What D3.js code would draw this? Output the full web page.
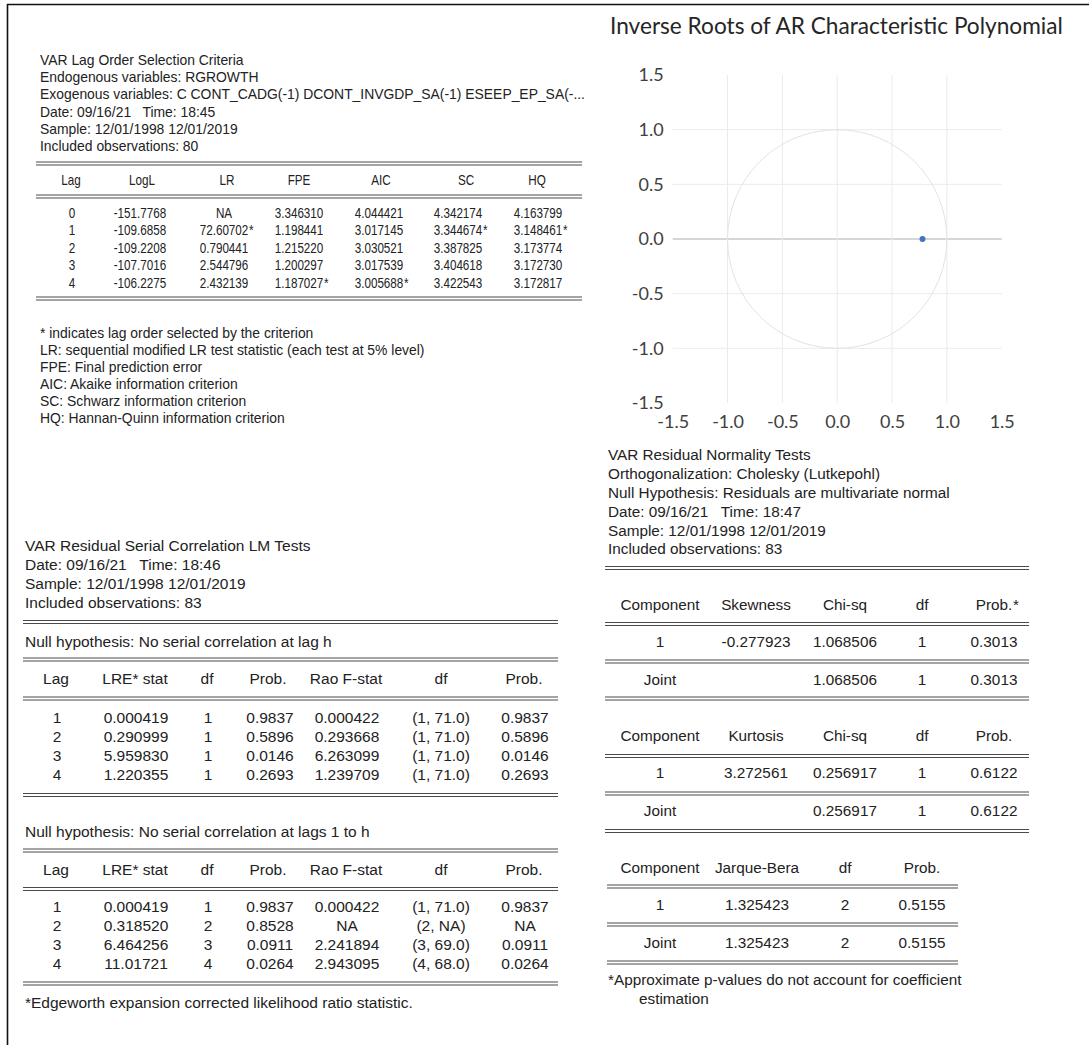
<!DOCTYPE html>
<html>
<head>
<meta charset="utf-8">
<script src="https://cdn.jsdelivr.net/npm/d3@7"></script>
<style>
  body { margin: 0; background: #fff; }
  svg text { fill: #222; white-space: pre; }
</style>
</head>
<body>
<svg id="page" width="1089" height="1045"></svg>
<script>
// --- Lag order selection criteria ---
const lagHeaderLines = [
  "VAR Lag Order Selection Criteria",
  "Endogenous variables: RGROWTH",
  "Exogenous variables: C CONT_CADG(-1) DCONT_INVGDP_SA(-1) ESEEP_EP_SA(-...",
  "Date: 09/16/21   Time: 18:45",
  "Sample: 12/01/1998 12/01/2019",
  "Included observations: 80"
];
const lagColumns = ["Lag", "LogL", "LR", "FPE", "AIC", "SC", "HQ"];
const lagOrder = ["0", "1", "2", "3", "4"];
const logL = ["-151.7768", "-109.6858", "-109.2208", "-107.7016", "-106.2275"];
const lrStat = ["NA", "72.60702*", "0.790441", "2.544796", "2.432139"];
const fpe = ["3.346310", "1.198441", "1.215220", "1.200297", "1.187027*"];
const aic = ["4.044421", "3.017145", "3.030521", "3.017539", "3.005688*"];
const sc = ["4.342174", "3.344674*", "3.387825", "3.404618", "3.422543"];
const hq = ["4.163799", "3.148461*", "3.173774", "3.172730", "3.172817"];
const lagNotes = [
  "* indicates lag order selected by the criterion",
  "LR: sequential modified LR test statistic (each test at 5% level)",
  "FPE: Final prediction error",
  "AIC: Akaike information criterion",
  "SC: Schwarz information criterion",
  "HQ: Hannan-Quinn information criterion"
];

// --- Serial correlation LM tests ---
const lmHeaderLines = [
  "VAR Residual Serial Correlation LM Tests",
  "Date: 09/16/21   Time: 18:46",
  "Sample: 12/01/1998 12/01/2019",
  "Included observations: 83"
];
const lmColumns = ["Lag", "LRE* stat", "df", "Prob.", "Rao F-stat", "df", "Prob."];
const lmLags = ["1", "2", "3", "4"];
const lreStatH = ["0.000419", "0.290999", "5.959830", "1.220355"];
const lreDfH = ["1", "1", "1", "1"];
const lreProbH = ["0.9837", "0.5896", "0.0146", "0.2693"];
const raoStatH = ["0.000422", "0.293668", "6.263099", "1.239709"];
const raoDfH = ["(1, 71.0)", "(1, 71.0)", "(1, 71.0)", "(1, 71.0)"];
const raoProbH = ["0.9837", "0.5896", "0.0146", "0.2693"];
const lreStatC = ["0.000419", "0.318520", "6.464256", "11.01721"];
const lreDfC = ["1", "2", "3", "4"];
const lreProbC = ["0.9837", "0.8528", "0.0911", "0.0264"];
const raoStatC = ["0.000422", "NA", "2.241894", "2.943095"];
const raoDfC = ["(1, 71.0)", "(2, NA)", "(3, 69.0)", "(4, 68.0)"];
const raoProbC = ["0.9837", "NA", "0.0911", "0.0264"];

// --- Normality tests ---
const normHeaderLines = [
  "VAR Residual Normality Tests",
  "Orthogonalization: Cholesky (Lutkepohl)",
  "Null Hypothesis: Residuals are multivariate normal",
  "Date: 09/16/21   Time: 18:47",
  "Sample: 12/01/1998 12/01/2019",
  "Included observations: 83"
];
const skewColumns = ["Component", "Skewness", "Chi-sq", "df", "Prob.*"];
const skewRows = [["1", "-0.277923", "1.068506", "1", "0.3013"], ["Joint", "", "1.068506", "1", "0.3013"]];
const kurtColumns = ["Component", "Kurtosis", "Chi-sq", "df", "Prob."];
const kurtRows = [["1", "3.272561", "0.256917", "1", "0.6122"], ["Joint", "", "0.256917", "1", "0.6122"]];
const jbColumns = ["Component", "Jarque-Bera", "df", "Prob."];
const jbRows = [["1", "1.325423", "2", "0.5155"], ["Joint", "1.325423", "2", "0.5155"]];

// --- AR roots ---
const rootRe = [0.778];
const rootIm = [0];
const axisTicks = [-1.5, -1.0, -0.5, 0.0, 0.5, 1.0, 1.5];

const svg = d3.select("#page");
const tableFont = "'Liberation Sans', Arial, sans-serif";

// page border (top and left edge of the screenshot)
svg.append("line").attr("x1", 7).attr("x2", 1089).attr("y1", 4.5).attr("y2", 4.5)
  .attr("stroke", "#111").attr("stroke-width", 1.6);
svg.append("line").attr("x1", 7.5).attr("x2", 7.5).attr("y1", 4).attr("y2", 1045)
  .attr("stroke", "#111").attr("stroke-width", 1.6);

function textLines(lines, x, y0, step, size) {
  svg.append("g").selectAll("text").data(lines).join("text")
    .attr("x", x).attr("y", (d, i) => y0 + i * step).attr("dy", "0.35em")
    .style("font-family", tableFont).style("font-size", size + "px")
    .text(d => d);
}

function doubleRule(x1, x2, y) {
  [y, y + 3].forEach(yy => {
    svg.append("line").attr("x1", x1).attr("x2", x2).attr("y1", yy).attr("y2", yy)
      .attr("stroke", "#4a4a4a").attr("stroke-width", 1.2);
  });
}

// centred cell; a trailing "*" hangs after the number. squeeze < 1 narrows the glyphs
function cell(g, value, x, y, size, squeeze) {
  const star = value.endsWith("*") && value.length > 1;
  const base = star ? value.slice(0, -1) : value;
  const t = g.append("g").attr("transform", `translate(${x},${y}) scale(${squeeze},1)`)
    .append("text").attr("dy", "0.35em").attr("text-anchor", "middle")
    .style("font-family", tableFont).style("font-size", size + "px")
    .text(base);
  const w = t.node().getComputedTextLength() * squeeze;
  if (star) {
    g.append("g").attr("transform", `translate(${x + w / 2 + 0.6},${y}) scale(${squeeze},1)`)
      .append("text").attr("dy", "0.35em")
      .style("font-family", tableFont).style("font-size", size + "px").text("*");
  }
}

function table(headers, headX, dataX, rows, headY, rowY, rowStep, size, squeeze = 1) {
  const g = svg.append("g");
  headers.forEach((h, j) => cell(g, h, headX[j], headY, size, squeeze));
  rows.forEach((r, i) => r.forEach((v, j) => { if (v !== "") cell(g, v, dataX[j], rowY + i * rowStep, size, squeeze); }));
}

// ---------- block 1: lag order selection ----------
const f1 = 13.9;
textLines(lagHeaderLines, 40, 60, 17.3, f1);
doubleRule(36, 582, 162);
doubleRule(36, 582, 195);
doubleRule(36, 582, 297);
const lagRows = d3.range(lagOrder.length).map(i => [lagOrder[i], logL[i], lrStat[i], fpe[i], aic[i], sc[i], hq[i]]);
table(lagColumns, [71, 142, 227, 299, 381, 466, 537], [72, 140, 224, 299, 379, 458, 538],
  lagRows, 180, 213, 17.5, f1, 0.84);
textLines(lagNotes, 40, 333, 17, f1);

// ---------- block 2: serial correlation ----------
const f2 = 15.5;
textLines(lmHeaderLines, 25, 546, 18.9, f2);
const lmHeadX = [56, 135, 207, 268, 346, 441, 524];
const lmDataX = [57, 136, 208, 270, 347, 441, 525];
doubleRule(23, 558, 620.5);
textLines(["Null hypothesis: No serial correlation at lag h"], 25, 641.5, 0, f2);
doubleRule(23, 558, 658);
doubleRule(23, 558, 697);
const rowsH = d3.range(lmLags.length).map(i => [lmLags[i], lreStatH[i], lreDfH[i], lreProbH[i], raoStatH[i], raoDfH[i], raoProbH[i]]);
table(lmColumns, lmHeadX, lmDataX, rowsH, 679, 718, 18.8, f2);
doubleRule(23, 558, 793.5);
textLines(["Null hypothesis: No serial correlation at lags 1 to h"], 25, 831.5, 0, f2);
doubleRule(23, 558, 849);
doubleRule(23, 558, 887.5);
const rowsC = d3.range(lmLags.length).map(i => [lmLags[i], lreStatC[i], lreDfC[i], lreProbC[i], raoStatC[i], raoDfC[i], raoProbC[i]]);
table(lmColumns, lmHeadX, lmDataX, rowsC, 870, 907, 19, f2);
doubleRule(23, 558, 982);
textLines(["*Edgeworth expansion corrected likelihood ratio statistic."], 25, 1002.5, 0, f2);

// ---------- block 3: normality ----------
const f3 = 15.3;
textLines(normHeaderLines, 608, 455, 18.8, f3);
const nX = [660, 756, 845, 922, 994];
doubleRule(605, 1029, 566.5);
table(skewColumns, nX, nX, skewRows, 605, 642, 38, f3);
doubleRule(605, 1029, 622.5);
doubleRule(605, 1029, 660);
doubleRule(605, 1029, 697);
table(kurtColumns, nX, nX, kurtRows, 736, 773, 38, f3);
doubleRule(605, 1029, 754.5);
doubleRule(605, 1029, 792);
doubleRule(605, 1029, 829.5);
const jX = [660, 757, 845, 922];
table(jbColumns, jX, jX, jbRows, 868, 905, 38, f3);
doubleRule(607, 958, 885);
doubleRule(607, 958, 923);
doubleRule(607, 958, 961);
textLines(["*Approximate p-values do not account for coefficient"], 608, 980, 0, f3);
textLines(["estimation"], 639, 999, 0, f3);

// ---------- AR roots chart ----------
const chartFont = "Lato, 'Open Sans', sans-serif";
const x = d3.scaleLinear().domain([-1.5, 1.5]).range([672.7, 1001.7]);
const y = d3.scaleLinear().domain([-1.5, 1.5]).range([403, 75]);
const inner = axisTicks.filter(t => Math.abs(t) < 1.5);

const plot = svg.append("g");
plot.selectAll(".hgrid").data(inner).join("line").attr("class", "hgrid")
  .attr("x1", x(-1.5)).attr("x2", x(1.5)).attr("y1", d => y(d)).attr("y2", d => y(d))
  .attr("stroke", d => d === 0 ? "#c9c9c9" : "#ebebeb").attr("stroke-width", d => d === 0 ? 1.4 : 1);
plot.selectAll(".vgrid").data(inner).join("line").attr("class", "vgrid")
  .attr("y1", y(-1.5)).attr("y2", y(1.5)).attr("x1", d => x(d)).attr("x2", d => x(d))
  .attr("stroke", "#ebebeb").attr("stroke-width", 1);
plot.append("ellipse")
  .attr("cx", x(0)).attr("cy", y(0)).attr("rx", x(1) - x(0)).attr("ry", y(0) - y(1))
  .attr("fill", "none").attr("stroke", "#e3e3e3").attr("stroke-width", 1);
plot.selectAll(".root").data(rootRe).join("circle").attr("class", "root")
  .attr("cx", d => x(d)).attr("cy", (d, i) => y(rootIm[i])).attr("r", 3)
  .attr("fill", "#4472c4");

const fmt = d => d.toFixed(1);
const yAxis = svg.append("g").attr("transform", `translate(${x(-1.5)},0)`)
  .call(d3.axisLeft(y).tickValues(axisTicks).tickSize(0).tickPadding(9).tickFormat(fmt));
const xAxis = svg.append("g").attr("transform", `translate(0,${y(-1.5)})`)
  .call(d3.axisBottom(x).tickValues(axisTicks).tickSize(0).tickPadding(12).tickFormat(fmt));
[yAxis, xAxis].forEach(a => {
  a.select(".domain").remove();
  a.selectAll("text").style("font-family", chartFont).style("font-size", "18px").style("fill", "#404040");
});

const title = svg.append("text").attr("x", 610).attr("y", 26.5).attr("dy", "0.35em")
  .style("font-family", chartFont).style("font-size", "21px").style("fill", "#262626")
  .text("Inverse Roots of AR Characteristic Polynomial");
const tw = title.node().getComputedTextLength();
title.style("font-size", (21 * 453 / tw).toFixed(2) + "px");
</script>
</body>
</html>
